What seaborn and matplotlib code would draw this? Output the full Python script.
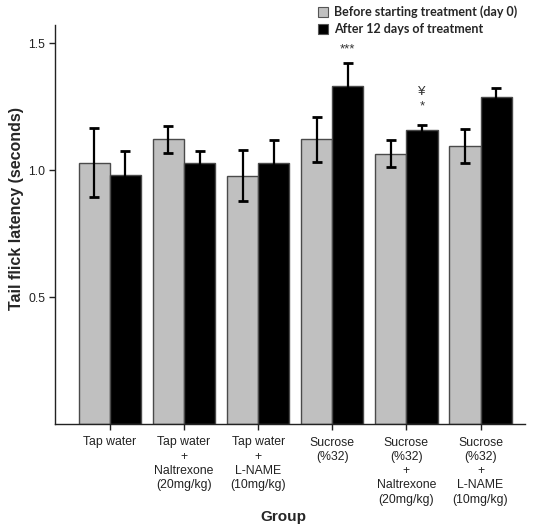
import matplotlib
matplotlib.use("Agg")
import matplotlib.pyplot as plt
import seaborn as sns
import pandas as pd
from matplotlib.patches import Patch

sns.set_theme(style="ticks")
plt.rcParams['font.family'] = ['Liberation Sans', 'DejaVu Sans']

groups = [
    "Tap water",
    "Tap water\n+\nNaltrexone\n(20mg/kg)",
    "Tap water\n+\nL-NAME\n(10mg/kg)",
    "Sucrose\n(%32)",
    "Sucrose\n(%32)\n+\nNaltrexone\n(20mg/kg)",
    "Sucrose\n(%32)\n+\nL-NAME\n(10mg/kg)",
]
series = ["Before starting treatment (day 0)", "After 12 days of treatment"]
before_mean = [1.029, 1.121, 0.978, 1.121, 1.064, 1.093]
before_err = [0.136, 0.053, 0.100, 0.088, 0.053, 0.067]
after_mean = [0.980, 1.026, 1.029, 1.330, 1.159, 1.289]
after_err = [0.094, 0.050, 0.088, 0.092, 0.018, 0.032]
annot_group = [3, 4, 4]
annot_text = ["***", "¥", "*"]
annot_y = [1.475, 1.308, 1.250]
y_ticks = [0.5, 1.0, 1.5]

df = pd.DataFrame({
    "group": groups * 2,
    "series": [series[0]] * len(groups) + [series[1]] * len(groups),
    "value": before_mean + after_mean,
})
all_means = before_mean + after_mean
all_errs = before_err + after_err

fig = plt.figure(figsize=(5.36, 5.26), dpi=100)
ax = fig.add_axes([55 / 536, 1 - 424 / 526, 470 / 536, 399 / 526])

colors = {series[0]: "#c0c0c0", series[1]: "#000000"}
sns.barplot(data=df, x="group", y="value", hue="series", palette=colors,
            order=groups, hue_order=series, width=0.84, gap=0,
            errorbar=None, edgecolor="#4a4a4a", linewidth=1.0, ax=ax,
            legend=False)

bars = sorted([p for p in ax.patches if p.get_height() > 0],
              key=lambda p: p.get_x())
after_x = {}
for p in bars:
    xc = p.get_x() + p.get_width() / 2
    h = p.get_height()
    gi = int(round(xc))
    if xc > gi:
        after_x[gi] = xc
        idx = len(groups) + gi
    else:
        idx = gi
    ax.errorbar(xc, all_means[idx], yerr=all_errs[idx], fmt="none",
                ecolor="#000000", elinewidth=1.6, capsize=3.5, capthick=2.0,
                zorder=3)

for g, t, yv in zip(annot_group, annot_text, annot_y):
    ax.text(after_x[g], yv, t, ha="center", va="center", fontsize=9.5,
            color="#333333")

ax.set_ylim(0, 1.571)
ax.set_xlim(-0.74, 5.6)
ax.set_yticks(y_ticks)
ax.set_yticklabels([f"{v:.1f}" for v in y_ticks])
ax.tick_params(axis="both", labelsize=8.8, length=4, width=1, color="#222222",
               labelcolor="#222222", pad=3)
ax.tick_params(axis="x", pad=5)
ax.set_xticks(range(len(groups)))
ax.set_xticklabels(groups, linespacing=1.25)
for s in ["top", "right"]:
    ax.spines[s].set_visible(False)
for s in ["left", "bottom"]:
    ax.spines[s].set_color("#222222")
    ax.spines[s].set_linewidth(1.0)

ax.set_xlabel("Group", fontsize=11, fontweight="bold")
ax.set_ylabel("Tail flick latency (seconds)", fontsize=11.5, fontweight="bold")
ax.xaxis.set_label_coords((283 - 55) / 470, -(517 - 424) / 399)
ax.xaxis.label.set_va("center")
ax.yaxis.set_label_coords((17 - 55) / 470, (424 - 209) / 399)
ax.yaxis.label.set_va("center")

handles = [Patch(facecolor=colors[s], edgecolor="#555555", linewidth=0.8)
           for s in series]
leg = fig.legend(handles, series, loc="upper right",
                 bbox_to_anchor=(526 / 536, 1 + 3 / 526), frameon=False,
                 prop={"family": ["Lato", "DejaVu Sans"], "weight": "bold",
                       "size": 9.0},
                 handlelength=0.8, handleheight=0.8, handletextpad=0.5,
                 labelspacing=0.4, borderpad=0.2)

fig.savefig("out.png", dpi=100)
